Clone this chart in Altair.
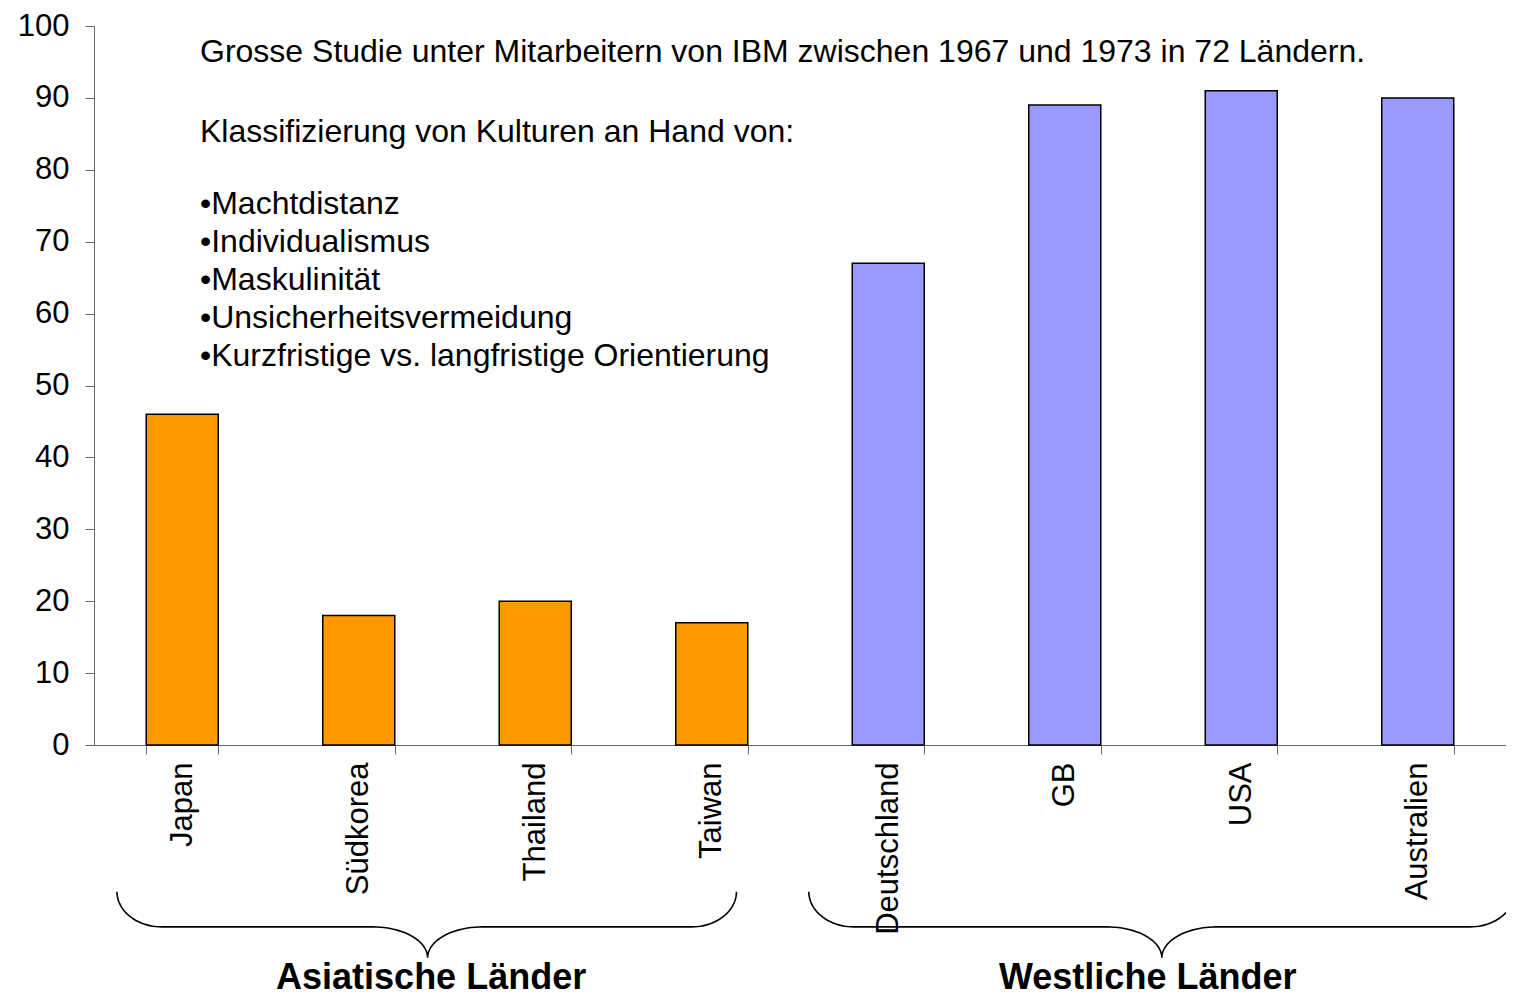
import math
import altair as alt
import pandas as pd

# ---- data ----
countries = ["Japan", "Südkorea", "Thailand", "Taiwan",
             "Deutschland", "GB", "USA", "Australien"]
values = [46, 18, 20, 17, 67, 89, 91, 90]
groups = ["Asiatische Länder"] * 4 + ["Westliche Länder"] * 4

group_names = ["Asiatische Länder", "Westliche Länder"]
group_colors = ["#FF9900", "#9999FF"]

note_lines = [
    "Grosse Studie unter Mitarbeitern von IBM zwischen 1967 und 1973 in 72 Ländern.",
    "Klassifizierung von Kulturen an Hand von:",
    "\u2022Machtdistanz",
    "\u2022Individualismus",
    "\u2022Maskulinität",
    "\u2022Unsicherheitsvermeidung",
    "\u2022Kurzfristige vs. langfristige Orientierung",
]
note_rows = [0, 2.1, 4, 5, 6, 7, 8]  # line slots (blank lines between paragraphs)

# brace extents in category units (0 = left edge of first band)
brace_start = [0.13, 4.05]
brace_mid = [1.89, 6.05]
brace_end = [3.64, 8.05]
label_pos = [1.91, 5.97]

FONT = "Liberation Sans"
W, H = 1412, 719
N = len(countries)

bars_df = pd.DataFrame({"country": countries, "value": values, "group": groups})
notes_df = pd.DataFrame({"line": note_lines, "row": note_rows})


def brace_points(start, mid, end, top=-20.4, flat=-25.3, tip=-29.6,
                 ea=0.255, ca=0.31, n=24):
    pts = []
    ts = [k * (math.pi / 2) / (n - 1) for k in range(n)]
    for t in ts:
        pts.append((start + ea * (1 - math.cos(t)), top - (top - flat) * math.sin(t)))
    for t in ts:
        pts.append((mid - ca + ca * math.sin(t), flat - (flat - tip) * (1 - math.cos(t))))
    for t in reversed(ts):
        pts.append((mid + ca - ca * math.sin(t), flat - (flat - tip) * (1 - math.cos(t))))
    for t in reversed(ts):
        pts.append((end - ea * (1 - math.cos(t)), top - (top - flat) * math.sin(t)))
    return pts


rows = []
for g, s, m, e in zip(group_names, brace_start, brace_mid, brace_end):
    for i, (px, py) in enumerate(brace_points(s, m, e)):
        rows.append({"group": g, "i": i, "pos": px, "value": py})
brace_df = pd.DataFrame(rows)

label_df = pd.DataFrame({"group": group_names, "pos": label_pos,
                         "value": [-34.0, -34.0]})

yscale = alt.Scale(domain=[0, 100], nice=False, zero=True)
xq = alt.Scale(domain=[0, N], nice=False, zero=False)

bars = alt.Chart(bars_df).mark_bar(stroke="black", strokeWidth=1.5).encode(
    x=alt.X("country:N", sort=countries,
            scale=alt.Scale(paddingInner=0.592, paddingOuter=0.296),
            axis=alt.Axis(title=None, labelAngle=-90, labelAlign="right",
                          labelBaseline="middle", labelFontSize=31,
                          labelFont=FONT, labelColor="black", labelPadding=8,
                          tickBand="extent", tickSize=9, tickColor="#666666",
                          domainColor="#666666", grid=False, labelLimit=0)),
    y=alt.Y("value:Q", scale=yscale,
            axis=alt.Axis(title=None, values=list(range(0, 101, 10)),
                          labelFontSize=31, labelFont=FONT, labelColor="black",
                          labelPadding=16, tickSize=9, tickColor="#666666",
                          domainColor="#666666", grid=False)),
    color=alt.Color("group:N", scale=alt.Scale(domain=group_names, range=group_colors),
                    legend=None),
)

braces = alt.Chart(brace_df).mark_line(color="black", strokeWidth=1.6).encode(
    x=alt.X("pos:Q", scale=xq, axis=None),
    y=alt.Y("value:Q", scale=yscale, axis=None),
    detail="group:N",
    order="i:Q",
)

group_labels = alt.Chart(label_df).mark_text(
    font=FONT, fontSize=36, fontWeight="bold", color="black",
    align="center", baseline="alphabetic"
).encode(
    x=alt.X("pos:Q", scale=xq, axis=None),
    y=alt.Y("value:Q", scale=yscale, axis=None),
    text="group:N",
)

note_text = alt.Chart(notes_df).transform_calculate(
    py="26 + datum.row * 38"
).mark_text(
    font=FONT, fontSize=32, color="black", align="left", baseline="middle"
).encode(
    x=alt.value(106),
    y=alt.Y("py:Q", scale=None, axis=None),
    text="line:N",
)

chart = alt.layer(bars, braces, group_labels, note_text).resolve_scale(
    x="independent", y="independent"
).properties(
    width=W, height=H,
    padding={"left": 86, "top": 18, "right": 0, "bottom": 254},
    autosize=alt.AutoSizeParams(type="none"),
    background="white",
).configure_view(stroke=None)

chart.save("out.html", embed_options={"renderer": "svg", "actions": False})
